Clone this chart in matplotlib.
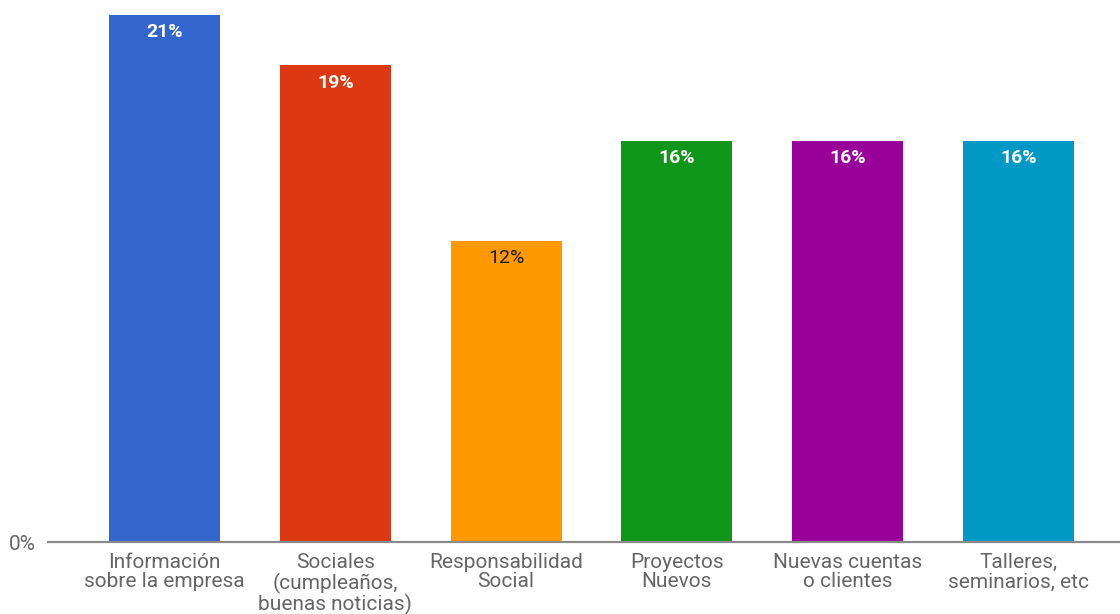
import matplotlib
matplotlib.use("Agg")
import matplotlib.pyplot as plt

categories = [
    "Información\nsobre la empresa",
    "Sociales\n(cumpleaños,\nbuenas noticias)",
    "Responsabilidad\nSocial",
    "Proyectos\nNuevos",
    "Nuevas cuentas\no clientes",
    "Talleres,\nseminarios, etc",
]
values = [21, 19, 12, 16, 16, 16]
colors = ["#3366cc", "#dc3912", "#ff9900", "#109618", "#990099", "#0099c6"]
label_colors = ["white", "white", "#1a1a1a", "white", "white", "white"]
label_weights = ["bold", "bold", "normal", "bold", "bold", "bold"]

plt.rcParams["font.family"] = ["Roboto", "DejaVu Sans"]

W, H = 1120, 614
fig = plt.figure(figsize=(W / 100, H / 100), dpi=100)
ax = fig.add_axes([48 / W, 72 / H, (W - 48) / W, 542 / H])

x = list(range(len(categories)))
bars = ax.bar(x, values, width=0.65, color=colors, zorder=2)

ax.set_xlim(-0.682, 5.594)
ax.set_ylim(0, 21.6)

for b, v, c, w in zip(bars, values, label_colors, label_weights):
    ax.annotate(f"{v}%", (b.get_x() + b.get_width() / 2, v),
                xytext=(0, -12.5), textcoords="offset points",
                ha="center", va="center", fontsize=14,
                fontweight=w, color=c, zorder=3)

for s in ["top", "right", "left"]:
    ax.spines[s].set_visible(False)
ax.spines["bottom"].set_color("#8a8a8a")
ax.spines["bottom"].set_linewidth(1.6)
ax.spines["bottom"].set_zorder(3)

ax.set_xticks(x)
ax.set_xticklabels(categories, fontsize=15, color="#666666", linespacing=1.02)
ax.tick_params(axis="x", length=0, pad=8)
ax.set_yticks([0])
ax.set_yticklabels(["0%"], fontsize=15, color="#666666")
ax.tick_params(axis="y", length=0, pad=9)

fig.savefig("out.png", dpi=100, facecolor="white")
